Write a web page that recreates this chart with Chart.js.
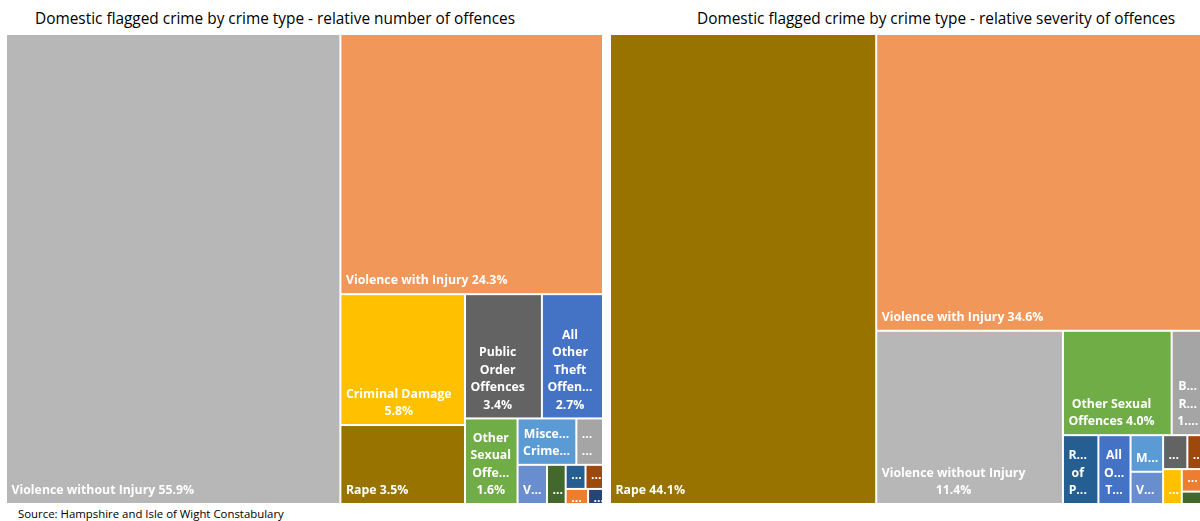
<!DOCTYPE html>
<html lang="en">
<head>
<meta charset="utf-8">
<title>Domestic flagged crime by crime type</title>
<script src="https://cdn.jsdelivr.net/npm/chart.js@4.4.1/dist/chart.umd.min.js"></script>
<style>
  html, body { margin: 0; padding: 0; background: #ffffff; }
  body { position: relative; width: 1200px; height: 521px; overflow: hidden; font-family: "Open Sans", "DejaVu Sans", sans-serif; }
  .chart-title { position: absolute; top: 9px; font-size: 15.4px; line-height: 19px; color: #000; white-space: nowrap; }
  .source { position: absolute; left: 18px; top: 506px; font-size: 11.4px; line-height: 15px; color: #000; white-space: nowrap; }
  .treemap { position: absolute; top: 34px; }
</style>
</head>
<body>
<div class="chart-title" style="left:35px">Domestic flagged crime by crime type - relative number of offences</div>
<div class="chart-title" style="left:697px">Domestic flagged crime by crime type - relative severity of offences</div>
<canvas id="numberChart" class="treemap" style="left:6px" width="597" height="470"></canvas>
<canvas id="severityChart" class="treemap" style="left:610px" width="597" height="470"></canvas>
<div class="source">Source: Hampshire and Isle of Wight Constabulary</div>
<script>
// Share of domestic flagged offences by crime type (%), largest first
const numberCategories = [
  'Violence without Injury', 'Violence with Injury', 'Criminal Damage', 'Rape',
  'Public Order Offences', 'All Other Theft Offences', 'Other Sexual Offences',
  'Miscellaneous Crimes Against Society', 'Burglary Residential', 'Vehicle Offences',
  'Theft from the Person', 'Robbery of Personal Property', 'Possession of Weapons Offences',
  'Arson', 'Possession of Drugs'
];
const numberValues = [55.9, 24.3, 5.8, 3.5, 3.4, 2.7, 1.6, 0.97, 0.44, 0.41, 0.26, 0.17, 0.15, 0.12, 0.08];
// How many tiles go into each strip of the tiling
const numberStrips = [1, 1, 2, 2, 1, 2, 1, 1, 2, 1, 1];

// Share of domestic flagged crime severity by crime type (%), largest first
const severityCategories = [
  'Rape', 'Violence with Injury', 'Violence without Injury', 'Other Sexual Offences',
  'Burglary Residential', 'Robbery of Personal Property', 'All Other Theft Offences',
  'Miscellaneous Crimes Against Society', 'Vehicle Offences', 'Public Order Offences',
  'Possession of Weapons Offences', 'Criminal Damage', 'Arson', 'Theft from the Person'
];
const severityValues = [44.1, 34.6, 11.4, 4.0, 1.3, 0.86, 0.78, 0.42, 0.37, 0.29, 0.235, 0.23, 0.2, 0.11];
const severityStrips = [1, 1, 1, 2, 1, 1, 2, 2, 1, 1, 1];

// Office palette, one colour per crime type
const categoryColours = {
  'All Other Theft Offences': '#4472C4',
  'Arson': '#ED7D31',
  'Burglary Residential': '#A5A5A5',
  'Criminal Damage': '#FFC000',
  'Miscellaneous Crimes Against Society': '#5B9BD5',
  'Other Sexual Offences': '#70AD47',
  'Possession of Drugs': '#264478',
  'Possession of Weapons Offences': '#9E480E',
  'Public Order Offences': '#636363',
  'Rape': '#997300',
  'Robbery of Personal Property': '#255E91',
  'Theft from the Person': '#43682B',
  'Vehicle Offences': '#698ED0',
  'Violence with Injury': '#F1975A',
  'Violence without Injury': '#B7B7B7'
};

const LABEL_FONT = 'bold 12.3px "Open Sans", "DejaVu Sans", sans-serif';
const LINE_HEIGHT = 17.5;
const TEXT_INSET = 4.5;   // label offset from the tile's left edge
const TEXT_MARGIN = 8;    // total horizontal room kept free around a label
const PAD_Y = 3.5;
const GAP = 1;

// Lay the tiles out strip by strip; each strip runs along the shorter side
// of the space still free, in value units of the chart's x and y scales.
function tileStrips(values, strips, box, kx, ky) {
  const cells = [];
  let { x0, y0, x1, y1 } = box;
  let remaining = values.reduce((a, b) => a + b, 0);
  let i = 0;
  strips.forEach(n => {
    const group = values.slice(i, i + n);
    const groupSum = group.reduce((a, b) => a + b, 0);
    const share = groupSum / remaining;
    const widthPx = (x1 - x0) * kx;
    const heightPx = (y1 - y0) * ky;
    if (widthPx >= heightPx) {
      const xe = x0 + (x1 - x0) * share;
      let yy = y0;
      group.forEach((v, j) => {
        const ye = yy + (y1 - y0) * v / groupSum;
        cells.push({ index: i + j, x0: x0, y0: yy, x1: xe, y1: ye });
        yy = ye;
      });
      x0 = xe;
    } else {
      const ye = y0 + (y1 - y0) * share;
      let xx = x0;
      group.forEach((v, j) => {
        const xe = xx + (x1 - x0) * v / groupSum;
        cells.push({ index: i + j, x0: xx, y0: y0, x1: xe, y1: ye });
        xx = xe;
      });
      y0 = ye;
    }
    remaining -= groupSum;
    i += n;
  });
  return cells;
}

function shorten(ctx, text, maxW, force) {
  if (!force && ctx.measureText(text).width <= maxW) return text;
  let s = text;
  while (s.length > 0 && ctx.measureText(s.trimEnd() + '...').width > maxW) s = s.slice(0, -1);
  return s.trimEnd() + '...';
}

function wrapLabel(ctx, text, maxW, maxLines) {
  const words = text.split(' ');
  const raw = [];
  let cur = '';
  words.forEach(w => {
    if (!cur) { cur = w; return; }
    const t = cur + ' ' + w;
    if (ctx.measureText(t).width <= maxW) cur = t;
    else { raw.push(cur); cur = w; }
  });
  if (cur) raw.push(cur);
  let lines = raw.map(l => shorten(ctx, l, maxW, false));
  if (raw.length > maxLines) {
    lines = lines.slice(0, maxLines);
    lines[maxLines - 1] = shorten(ctx, raw[maxLines - 1], maxW, true);
  }
  return lines;
}

function treemapPlugin(categories, values, strips) {
  return {
    id: 'treemapTiles',
    afterDatasetsDraw(chart) {
      const { ctx } = chart;
      const xs = chart.scales.x;
      const ys = chart.scales.y;
      const kx = Math.abs(xs.getPixelForValue(1) - xs.getPixelForValue(0));
      const ky = Math.abs(ys.getPixelForValue(1) - ys.getPixelForValue(0));
      const cells = tileStrips(values, strips, { x0: xs.min, y0: ys.min, x1: xs.max, y1: ys.max }, kx, ky);
      ctx.save();
      cells.forEach(c => {
        const name = categories[c.index];
        const left = Math.min(xs.getPixelForValue(c.x0), xs.getPixelForValue(c.x1)) + GAP;
        const right = Math.max(xs.getPixelForValue(c.x0), xs.getPixelForValue(c.x1)) - GAP;
        const top = Math.min(ys.getPixelForValue(c.y0), ys.getPixelForValue(c.y1)) + GAP;
        const bottom = Math.max(ys.getPixelForValue(c.y0), ys.getPixelForValue(c.y1)) - GAP;
        const w = right - left, h = bottom - top;
        ctx.fillStyle = categoryColours[name];
        ctx.fillRect(left, top, w, h);

        // label: name and value, wrapped and shortened to fit the tile
        ctx.save();
        ctx.beginPath();
        ctx.rect(left, top, w, h);
        ctx.clip();
        ctx.font = LABEL_FONT;
        ctx.fillStyle = '#ffffff';
        ctx.textAlign = 'center';
        ctx.textBaseline = 'middle';
        const maxW = w - TEXT_MARGIN;
        const maxLines = Math.max(1, Math.floor((h - 2 * PAD_Y) / LINE_HEIGHT));
        const label = name + ' ' + values[c.index].toFixed(1) + '%';
        const lines = wrapLabel(ctx, label, maxW, maxLines);
        const blockW = Math.max(...lines.map(l => ctx.measureText(l).width));
        const blockH = lines.length * LINE_HEIGHT;
        const blockTop = Math.max(bottom - PAD_Y - blockH, top);
        const cx = left + TEXT_INSET + blockW / 2;
        lines.forEach((l, k) => ctx.fillText(l, cx, blockTop + LINE_HEIGHT * (k + 0.5)));
        ctx.restore();
      });
      ctx.restore();
    }
  };
}

function makeTreemap(canvasId, categories, values, strips) {
  return new Chart(document.getElementById(canvasId), {
    type: 'scatter',
    data: { datasets: [] },
    options: {
      responsive: false,
      animation: false,
      events: [],
      layout: { padding: 0 },
      scales: {
        x: { type: 'linear', min: 0, max: 100, display: false },
        y: { type: 'linear', min: 0, max: 100, reverse: true, display: false }
      },
      plugins: { legend: { display: false }, tooltip: { enabled: false } }
    },
    plugins: [treemapPlugin(categories, values, strips)]
  });
}

makeTreemap('numberChart', numberCategories, numberValues, numberStrips);
makeTreemap('severityChart', severityCategories, severityValues, severityStrips);
</script>
</body>
</html>
